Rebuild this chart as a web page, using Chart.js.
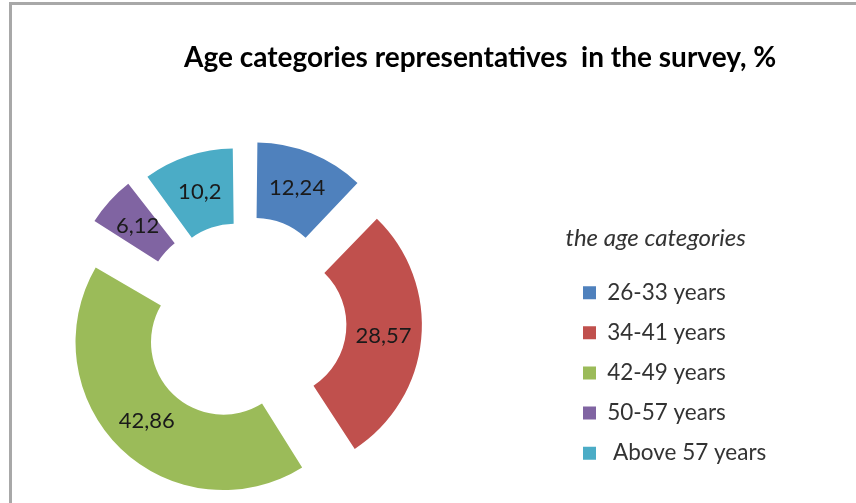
<!DOCTYPE html>
<html><head><meta charset="utf-8">
<script src="https://cdn.jsdelivr.net/npm/chart.js@4.4.1/dist/chart.umd.min.js"></script>
<style>
html,body{margin:0;padding:0;width:856px;height:503px;overflow:hidden;background:#fff;}
#frame{position:absolute;left:9px;top:2px;width:900px;height:600px;border-left:3px solid #a8a8a8;border-top:3px solid #a8a8a8;}
#wrap{position:absolute;left:-90px;top:0;width:946px;height:503px;}
</style></head><body>
<div id="frame"></div>
<div id="wrap"><canvas id="c"></canvas></div>
<script>
// ---- data ----
const categories = ['26-33 years', '34-41 years', '42-49 years', '50-57 years', ' Above 57 years'];
const values = [12.24, 28.57, 42.86, 6.12, 10.2];
const chartTitle = 'Age categories representatives  in the survey, %';
const legendTitle = 'the age categories';

// ---- style ----
const colors = ['#4F81BD', '#C0504D', '#9BBB59', '#8064A2', '#4BACC6'];
const explodeOffsets = [136, 124, 112, 128, 108];
const FONT = 'Lato';
const labelSize = 22.5;
const legPad = 17.6, boxW = 13;

const mctx = document.createElement('canvas').getContext('2d');
mctx.font = labelSize + 'px ' + FONT;
const maxTextW = Math.max(...categories.map(c => mctx.measureText(c).width));
const legendW = legPad + boxW + labelSize / 2 + maxTextW + 10;
const legendLeftPage = 583 - legPad;
const shift = 90;
const rightPad = 856 - legendLeftPage - legendW;
const leftPad = 2 * 243 - legendLeftPage + shift;

const fmt = v => String(v).replace('.', ',');

const explodeFix = {
  id: 'explodeFix',
  afterDatasetsUpdate(chart) {
    chart.getDatasetMeta(0).data.forEach(arc => {
      const t = (arc.options.offset || 0) / 4;
      const fix = 1 - Math.sin(Math.min(Math.PI, arc.circumference || 0));
      const ro = t * fix;
      arc.outerRadius -= ro;
      arc.innerRadius -= ro;
      arc.$ro = ro;
    });
  }
};

const sliceLabels = {
  id: 'sliceLabels',
  afterDatasetsDraw(chart) {
    const ctx = chart.ctx;
    const meta = chart.getDatasetMeta(0);
    ctx.save();
    ctx.font = '22px ' + FONT;
    ctx.fillStyle = '#1a1a1a';
    ctx.textAlign = 'center';
    ctx.textBaseline = 'middle';
    meta.data.forEach((arc, i) => {
      const mid = (arc.startAngle + arc.endAngle) / 2;
      const t = (arc.options.offset || 0) / 4;
      const rm = (arc.innerRadius + arc.outerRadius) / 2 + (arc.$ro || 0);
      ctx.fillText(fmt(values[i]), arc.x + Math.cos(mid) * (t + rm), arc.y + Math.sin(mid) * (t + rm));
    });
    ctx.restore();
  }
};

Chart.defaults.font.family = FONT;

new Chart(document.getElementById('c'), {
  type: 'doughnut',
  data: {
    labels: categories,
    datasets: [{
      data: values,
      backgroundColor: colors,
      borderWidth: 0,
      offset: explodeOffsets,
      hoverOffset: 0
    }]
  },
  options: {
    responsive: true,
    maintainAspectRatio: false,
    animation: false,
    events: [],
    radius: 148,
    cutout: '49%',
    layout: { padding: { left: leftPad, right: rightPad, top: 0, bottom: 0 } },
    plugins: {
      title: {
        display: true,
        text: chartTitle,
        align: 'end',
        color: '#000',
        font: { family: FONT, size: 28, weight: 'bold', lineHeight: 1.2 },
        padding: { top: 41, bottom: 66.4 }
      },
      legend: {
        position: 'right',
        align: 'start',
        fullSize: false,
        title: {
          display: true,
          text: legendTitle,
          position: 'start',
          color: '#333',
          font: { family: FONT, size: 24, style: 'italic', lineHeight: 1.2 },
          padding: { top: 85.5, bottom: 8.6 }
        },
        labels: {
          color: '#333',
          font: { family: FONT, size: labelSize },
          boxWidth: boxW,
          boxHeight: 13,
          padding: legPad
        }
      },
      tooltip: { enabled: false }
    }
  },
  plugins: [explodeFix, sliceLabels]
});
</script>
</body></html>
